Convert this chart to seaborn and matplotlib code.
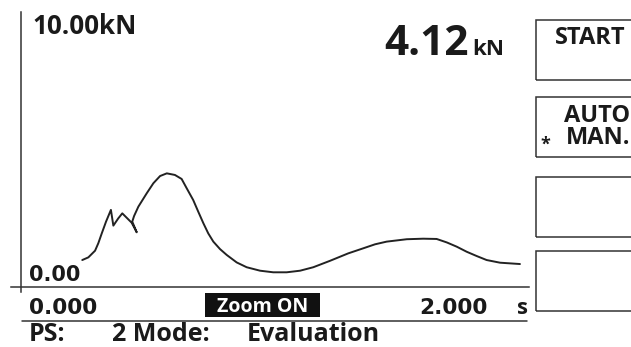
import numpy as np
import pandas as pd
import matplotlib
matplotlib.use("Agg")
import matplotlib.pyplot as plt
from matplotlib.patches import Rectangle
from matplotlib.lines import Line2D
import seaborn as sns

# force curve (time in s, force in kN)
time_s = [0.300, 0.330, 0.363, 0.379, 0.396, 0.417, 0.441, 0.453, 0.477, 0.497,
          0.522, 0.543, 0.568, 0.546, 0.555, 0.576, 0.617, 0.650, 0.683, 0.716,
          0.756, 0.789, 0.814, 0.846, 0.871, 0.896, 0.920, 0.945, 0.978, 1.011,
          1.060, 1.109, 1.175, 1.240, 1.306, 1.372, 1.437, 1.519, 1.609, 1.683,
          1.741, 1.798, 1.897, 1.978, 2.044, 2.094, 2.143, 2.192, 2.241, 2.290,
          2.356, 2.454]
force_kN = [1.00, 1.10, 1.35, 1.63, 2.00, 2.44, 2.88, 2.29, 2.56, 2.75,
            2.56, 2.40, 2.04, 2.44, 2.65, 3.00, 3.50, 3.88, 4.15, 4.25,
            4.19, 4.04, 3.69, 3.25, 2.81, 2.38, 2.00, 1.69, 1.41, 1.19,
            0.91, 0.73, 0.60, 0.54, 0.54, 0.60, 0.73, 0.97, 1.25, 1.44,
            1.59, 1.69, 1.78, 1.80, 1.79, 1.66, 1.50, 1.31, 1.15, 1.00,
            0.90, 0.85]

y_max_label = "10.00kN"
y_min_label = "0.00"
x_tick_labels = ["0.000", "2.000"]
current_value = "4.12"
buttons = ["START", "AUTO\nMAN.", "", ""]
status_parts = ["PS:", "2 Mode:", "Evaluation"]

W, H = 631, 347
INK = "#1a1a1a"
FONT = "Open Sans"
WIDE = "DejaVu Sans"

sns.set_style("white")
plt.rcParams["font.family"] = [FONT, "DejaVu Sans"]

fig = plt.figure(figsize=(W / 100, H / 100), dpi=100)


def fx(px):
    return px / W


def fy(py):
    return 1 - py / H


# axes placed so that 0 s / 0 kN sit on the crossing of the two axis lines
x0_px, x_per_s = 21.3, 203.2
y0_px, y_per_kN = 286.7, 26.67
xlim = (-0.05, 2.5)
ylim = (-0.2, 10.3)
left = x0_px + xlim[0] * x_per_s
right = x0_px + xlim[1] * x_per_s
bottom = y0_px - ylim[0] * y_per_kN
top = y0_px - ylim[1] * y_per_kN
ax = fig.add_axes([fx(left), fy(bottom), (right - left) / W, (bottom - top) / H])
ax.patch.set_alpha(0)

df = pd.DataFrame({"time": time_s, "force": force_kN})
sns.lineplot(data=df, x="time", y="force", sort=False, estimator=None,
             color="#222222", linewidth=1.4, ax=ax)
for ln in ax.lines:
    ln.set_solid_joinstyle("round")

ax.set_xlim(*xlim)
ax.set_ylim(*ylim)
ax.set_xlabel("")
ax.set_ylabel("")

for side in ["top", "right"]:
    ax.spines[side].set_visible(False)
ax.spines["left"].set_position(("data", 0))
ax.spines["bottom"].set_position(("data", 0))
for side in ["left", "bottom"]:
    ax.spines[side].set_color("#333333")
    ax.spines[side].set_linewidth(1.1)

ax.set_xticks([0, 1, 2])
ax.set_xticks([0.5, 1.5, 2.5], minor=True)
ax.set_yticks([0, 5, 10])
ax.set_yticks([2.5, 7.5], minor=True)
ax.tick_params(axis="x", which="major", direction="out", length=5, width=1, color="#333333", labelbottom=False)
ax.tick_params(axis="x", which="minor", direction="out", length=3, width=1, color="#333333")
ax.tick_params(axis="y", which="major", direction="out", length=7, width=1, color="#333333", labelleft=False)
ax.tick_params(axis="y", which="minor", direction="out", length=3.5, width=1, color="#333333")

# axis annotations
fig.text(fx(32), fy(34.5), y_max_label, fontsize=18.7, fontweight="bold", color=INK, va="baseline")
fig.text(fx(29), fy(281), y_min_label, fontsize=15, fontweight="bold", family=WIDE, color=INK, va="baseline")
fig.text(fx(29), fy(313.5), x_tick_labels[0], fontsize=15.6, fontweight="bold", family=WIDE, color=INK, va="baseline")
fig.text(fx(488), fy(314.5), x_tick_labels[1], fontsize=15.6, fontweight="bold", family=WIDE, color=INK,
         va="baseline", ha="right")
fig.text(fx(527.5), fy(314.5), "s", fontsize=16, fontweight="bold", color=INK, va="baseline", ha="right")

# live reading
fig.text(fx(469), fy(55), current_value, fontsize=30.5, fontweight="bold", color=INK, va="baseline", ha="right")
fig.text(fx(472), fy(55), "kN", fontsize=16, fontweight="bold", color=INK, va="baseline")

# zoom indicator
fig.patches.append(Rectangle((fx(205), fy(316.7)), (320 - 205) / W, (316.7 - 293.3) / H,
                             transform=fig.transFigure, facecolor="#111111", edgecolor="none"))
fig.text(fx(263), fy(312), "Zoom ON", fontsize=14, fontweight="bold", color="white", va="baseline", ha="center")

# separator line above status bar
fig.add_artist(Line2D([fx(21.5), fx(527)], [fy(321), fy(321)], transform=fig.transFigure,
                      color="#333333", linewidth=1.1))

# status bar
for label, xp in zip(status_parts, [29, 112, 247]):
    fig.text(fx(xp), fy(347), label, fontsize=18, fontweight="bold", color=INK, va="bottom")

# soft-key buttons on the right (clipped by the picture edge)
box_tops = [20, 97, 177, 251]
box_h = 60
for label, yt in zip(buttons, box_tops):
    fig.patches.append(Rectangle((fx(536), fy(yt + box_h)), (640 - 536) / W, box_h / H,
                                 transform=fig.transFigure, facecolor="none",
                                 edgecolor="#333333", linewidth=1.1))
fig.text(fx(626), fy(43.5), buttons[0], fontsize=17, fontweight="bold", color=INK, va="baseline", ha="right")
fig.text(fx(630.5), fy(143.5), buttons[1], fontsize=17, fontweight="bold", color=INK, va="baseline",
         ha="right", multialignment="right", linespacing=0.84)
fig.text(fx(545), fy(150), "*", fontsize=13, fontweight="bold", color=INK, va="baseline", ha="center")

fig.savefig("out.png", dpi=100)
